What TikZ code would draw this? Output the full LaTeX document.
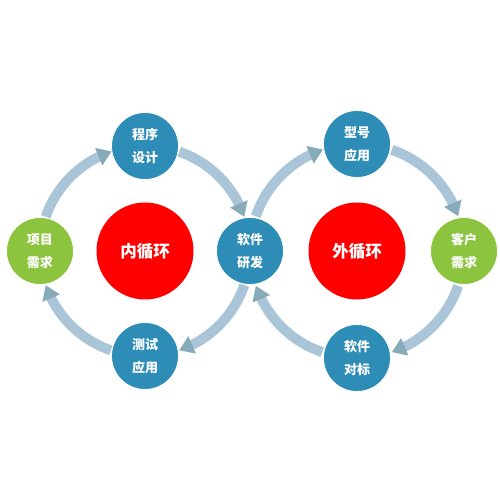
\documentclass[tikz,border=0pt]{standalone}
\usepackage{fontspec}
\newfontfamily\cjk{Noto Sans CJK SC}
\usetikzlibrary{arrows.meta,bending}
\definecolor{nodeblue}{HTML}{2E8DB7}
\definecolor{nodegreen}{HTML}{8CC43F}
\definecolor{corered}{HTML}{FF0000}
\definecolor{shaftcol}{HTML}{A9C5D7}
\definecolor{tipcol}{HTML}{87ABB9}
\begin{document}
\begin{tikzpicture}[x=1pt,y=1pt,
 bubble/.style={circle, minimum size=67pt, inner sep=0pt, draw=white, line width=0.8pt, text=white, font=\cjk\bfseries\fontsize{13}{23}\selectfont, align=center},
 bluebubble/.style={bubble, fill=nodeblue},
 greenbubble/.style={bubble, fill=nodegreen},
 core/.style={circle, minimum size=97pt, inner sep=0pt, fill=corered, text=white, font=\cjk\bfseries\fontsize{16.5}{20}\selectfont},
 flow/.style={line width=10pt, draw=shaftcol, -{Triangle[length=14pt,width=18pt,color=tipcol]}}
]
\useasboundingbox[fill=white] (0,0) rectangle (500,500);
\coordinate (C1) at (145,249);
\coordinate (C2) at (357,249);
% inner loop arrows
\draw[flow] ([shift={(161:105)}]C1) arc[start angle=161, end angle=108.5, radius=105];
\draw[flow] ([shift={(71:105)}]C1) arc[start angle=71, end angle=19, radius=105];
\draw[flow] ([shift={(-19:105)}]C1) arc[start angle=-19, end angle=-71, radius=105];
\draw[flow] ([shift={(-109:105)}]C1) arc[start angle=-109, end angle=-161, radius=105];
% outer loop arrows
\draw[flow] ([shift={(161:107)}]C2) arc[start angle=161, end angle=108.5, radius=107];
\draw[flow] ([shift={(71:107)}]C2) arc[start angle=71, end angle=19, radius=107];
\draw[flow] ([shift={(-19:107)}]C2) arc[start angle=-19, end angle=-71, radius=107];
\draw[flow] ([shift={(-109:107)}]C2) arc[start angle=-109, end angle=-161, radius=107];
% nodes
\node[core] (inner) at (C1) {内循环};
\node[core] (outer) at (C2) {外循环};
\node[greenbubble] (xmxq) at ([shift={(180:105)}]C1) {项目\\需求};
\node[bluebubble] (cxsj) at ([shift={(90:105)}]C1) {程序\\设计};
\node[bluebubble] (rjyf) at ([shift={(0:105)}]C1) {软件\\研发};
\node[bluebubble] (csyy) at ([shift={(-90:105)}]C1) {测试\\应用};
\node[bluebubble] (xhyy) at ([shift={(90:107)}]C2) {型号\\应用};
\node[greenbubble] (khxq) at ([shift={(0:107)}]C2) {客户\\需求};
\node[bluebubble] (rjdb) at ([shift={(-90:107)}]C2) {软件\\对标};
\end{tikzpicture}
\end{document}
